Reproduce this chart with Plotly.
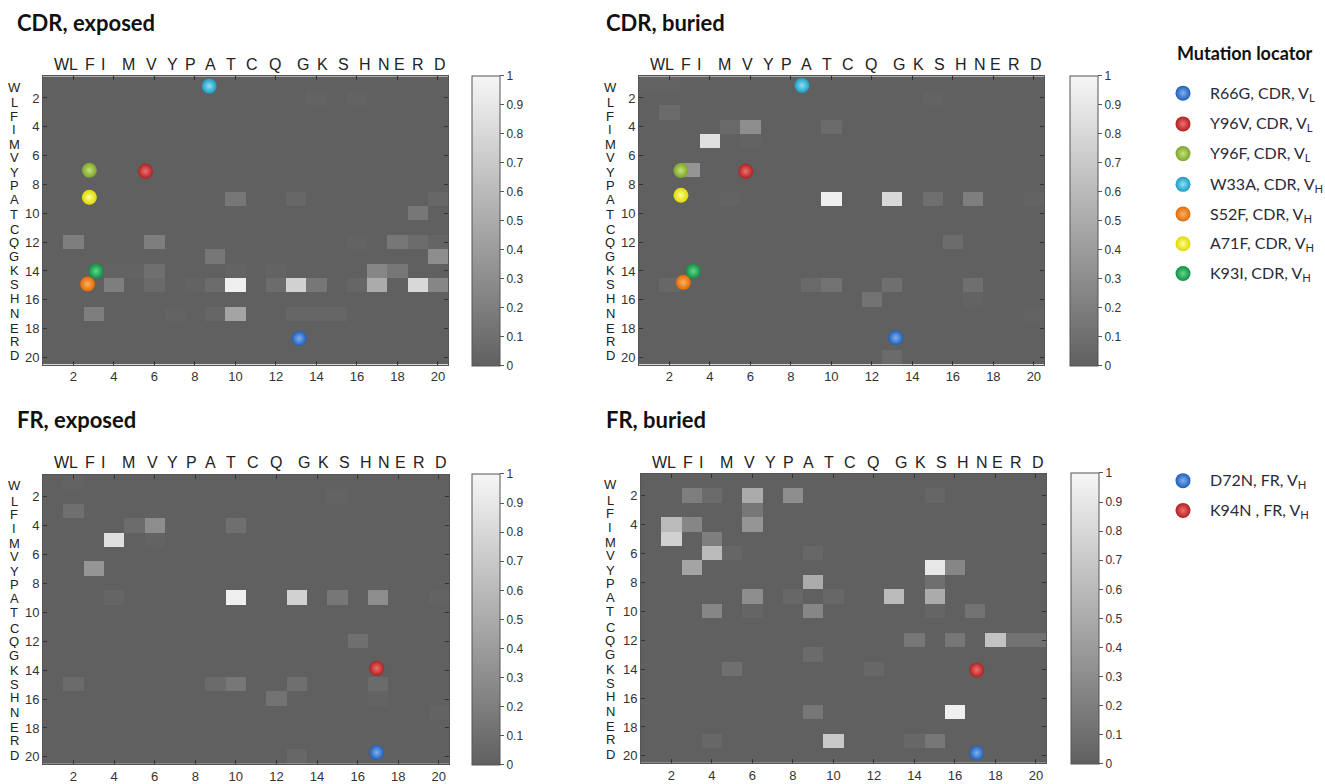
import plotly.graph_objects as go
import numpy as np

# ---------------- DATA ----------------
residues = ["W", "L", "F", "I", "M", "V", "Y", "P", "A", "T",
            "C", "Q", "G", "K", "S", "H", "N", "E", "R", "D"]
axis_ticks = [2, 4, 6, 8, 10, 12, 14, 16, 18, 20]
cbar_ticks = [0, 0.1, 0.2, 0.3, 0.4, 0.5, 0.6, 0.7, 0.8, 0.9, 1]
cbar_labels = ["0", "0.1", "0.2", "0.3", "0.4", "0.5", "0.6", "0.7", "0.8", "0.9", "1"]

panel_titles = ["CDR, exposed", "CDR, buried", "FR, exposed", "FR, buried"]

# non-zero cells: (row, column, value)
cdr_exposed_cells = [
    (2, 14, 0.02), (2, 16, 0.02),
    (9, 10, 0.15), (9, 13, 0.05), (9, 20, 0.05),
    (10, 19, 0.15),
    (12, 2, 0.2), (12, 6, 0.2), (12, 16, 0.02), (12, 18, 0.15), (12, 19, 0.08), (12, 20, 0.03),
    (13, 9, 0.15), (13, 20, 0.3),
    (14, 4, 0.02), (14, 5, 0.02), (14, 6, 0.1), (14, 10, 0.02), (14, 12, 0.02),
    (14, 17, 0.25), (14, 18, 0.15),
    (15, 4, 0.2), (15, 6, 0.06), (15, 8, 0.02), (15, 9, 0.08), (15, 10, 0.95),
    (15, 12, 0.08), (15, 13, 0.75), (15, 14, 0.15), (15, 16, 0.04), (15, 17, 0.5),
    (15, 19, 0.8), (15, 20, 0.25),
    (17, 3, 0.2), (17, 7, 0.02), (17, 9, 0.04), (17, 10, 0.45), (17, 13, 0.04),
    (17, 14, 0.04), (17, 15, 0.04),
]
cdr_buried_cells = [
    (1, 1, 0.02), (1, 2, 0.02), (2, 15, 0.02), (3, 2, 0.07),
    (4, 5, 0.06), (4, 6, 0.3), (4, 10, 0.07),
    (5, 4, 0.85), (5, 6, 0.02), (7, 3, 0.35),
    (9, 5, 0.02), (9, 10, 0.95), (9, 13, 0.8), (9, 15, 0.1), (9, 17, 0.2), (9, 20, 0.02),
    (12, 16, 0.08),
    (15, 2, 0.05), (15, 9, 0.06), (15, 10, 0.12), (15, 13, 0.1), (15, 17, 0.1),
    (16, 12, 0.12), (16, 17, 0.02), (17, 20, 0.02), (20, 13, 0.07),
]
fr_exposed_cells = [
    (1, 2, 0.02), (2, 15, 0.02), (3, 2, 0.1),
    (4, 5, 0.08), (4, 6, 0.3), (4, 10, 0.1),
    (5, 4, 0.85), (5, 6, 0.02), (7, 3, 0.35),
    (9, 4, 0.03), (9, 10, 0.95), (9, 13, 0.75), (9, 15, 0.15), (9, 17, 0.3), (9, 20, 0.02),
    (12, 16, 0.1),
    (15, 2, 0.07), (15, 9, 0.07), (15, 10, 0.15), (15, 13, 0.1), (15, 17, 0.07),
    (16, 12, 0.12), (16, 17, 0.02), (17, 20, 0.02), (20, 13, 0.05),
]
fr_buried_cells = [
    (2, 3, 0.2), (2, 4, 0.07), (2, 6, 0.5), (2, 8, 0.3), (2, 15, 0.04),
    (3, 6, 0.15),
    (4, 2, 0.6), (4, 3, 0.25), (4, 6, 0.35),
    (5, 2, 0.75), (5, 4, 0.2),
    (6, 4, 0.6), (6, 5, 0.04), (6, 9, 0.05),
    (7, 3, 0.45), (7, 15, 0.9), (7, 16, 0.25),
    (8, 9, 0.5), (8, 15, 0.1),
    (9, 6, 0.3), (9, 8, 0.05), (9, 10, 0.05), (9, 13, 0.6), (9, 15, 0.5),
    (10, 4, 0.25), (10, 6, 0.03), (10, 9, 0.25), (10, 15, 0.03), (10, 17, 0.12),
    (12, 14, 0.15), (12, 16, 0.15), (12, 18, 0.65), (12, 19, 0.12), (12, 20, 0.12),
    (13, 9, 0.07),
    (14, 5, 0.1), (14, 12, 0.05),
    (17, 9, 0.15), (17, 16, 0.95),
    (19, 4, 0.05), (19, 10, 0.7), (19, 14, 0.05), (19, 15, 0.15),
]

# mutation locators
cdr_mutations = ["R66G, CDR, V<sub>L</sub>", "Y96V, CDR, V<sub>L</sub>", "Y96F, CDR, V<sub>L</sub>",
                 "W33A, CDR, V<sub>H</sub>", "S52F, CDR, V<sub>H</sub>", "A71F, CDR, V<sub>H</sub>",
                 "K93I, CDR, V<sub>H</sub>"]
cdr_exposed_x = [13.15, 5.56, 2.79, 8.71, 2.70, 2.79, 3.12]
cdr_exposed_y = [18.68, 7.08, 7.01, 1.18, 14.90, 8.89, 14.01]
cdr_buried_x = [13.18, 5.77, 2.57, 8.55, 2.69, 2.57, 3.18]
cdr_buried_y = [18.63, 7.08, 7.03, 1.13, 14.79, 8.75, 14.01]

fr_mutations = ["D72N, FR, V<sub>H</sub>", "K94N , FR, V<sub>H</sub>"]
fr_exposed_x = [16.94, 16.94]
fr_exposed_y = [19.70, 13.88]
fr_buried_x = [17.08, 17.08]
fr_buried_y = [19.80, 14.06]

# ---------------- STYLE ----------------
cdr_colors = [("#1f5fb8", "#7fb0f0"), ("#b02020", "#f07070"), ("#7aa52a", "#c8e07a"),
              ("#1a9cc0", "#8ee0f5"), ("#e06a05", "#ffb060"), ("#e0d800", "#ffff90"),
              ("#0e9040", "#60d890")]
fr_colors = [("#1f5fb8", "#7fb0f0"), ("#b02020", "#f07070")]

FIG_W, FIG_H = 1325, 784
def px_x(v): return v / FIG_W
def px_y(v): return 1 - v / FIG_H

# plot areas in pixels (left, right, top, bottom)
areas = [(43, 448, 77, 368), (639, 1044, 77, 368), (43, 449, 479, 771), (641, 1046, 478, 770)]
cbar_left = [472, 1070, 472, 1071]
title_pos = [(15, 23), (604, 23), (15, 423), (604, 423)]
top_letter_y = [65, 65, 467, 467]
left_letter_x = [14, 610, 14, 610]
top_letter_pos = [1.44, 2.01, 2.83, 3.45, 4.72, 5.87, 6.89, 7.8, 8.76, 9.77,
                  10.83, 11.96, 13.36, 14.31, 15.33, 16.42, 17.32, 18.12, 19.0, 20.1]
left_letter_pos = [1.27, 2.35, 3.26, 4.2, 5.25, 6.15, 7.17, 8.1, 9.07, 10.05,
                   11.1, 12.0, 13.0, 14.0, 14.97, 15.9, 16.96, 17.99, 18.9, 19.87]

colorscale = [[0, "rgb(96,96,96)"], [1, "rgb(246,246,246)"]]
tick_font = dict(family="Liberation Sans, Arial", size=13, color="#333")
letter_font = dict(family="Liberation Sans, Arial", size=16, color="#222")
left_letter_font = dict(family="Liberation Sans, Arial", size=13, color="#222")

def build_z(cells):
    z = np.zeros((20, 20))
    for r, c, v in cells:
        z[r - 1, c - 1] = v
    return z

cells_all = [cdr_exposed_cells, cdr_buried_cells, fr_exposed_cells, fr_buried_cells]
markers_all = [
    (cdr_exposed_x, cdr_exposed_y, cdr_colors),
    (cdr_buried_x, cdr_buried_y, cdr_colors),
    (fr_exposed_x, fr_exposed_y, fr_colors),
    (fr_buried_x, fr_buried_y, fr_colors),
]

fig = go.Figure()
annotations = []
idx_vals = list(range(1, 21))

for i in range(4):
    ax = "" if i == 0 else str(i + 1)
    L, R, T, B = areas[i]
    fig.add_trace(go.Heatmap(
        z=build_z(cells_all[i]), x=idx_vals, y=idx_vals,
        colorscale=colorscale, zmin=0, zmax=1,
        xaxis="x" + ax, yaxis="y" + ax, showscale=True,
        colorbar=dict(
            x=px_x(cbar_left[i]), xanchor="left", xpad=0, ypad=0,
            y=px_y((T + B) / 2), yanchor="middle",
            len=(B - T + 2) / FIG_H, lenmode="fraction",
            thickness=28, thicknessmode="pixels",
            outlinecolor="#555", outlinewidth=1,
            tickvals=cbar_ticks, ticktext=cbar_labels,
            ticks="outside", ticklen=4, tickcolor="#555",
            tickfont=dict(family="Liberation Sans, Arial", size=12, color="#333"),
        ),
        hoverinfo="skip",
    ))
    mx, my, cols = markers_all[i]
    fig.add_trace(go.Scatter(
        x=mx, y=my, mode="markers", xaxis="x" + ax, yaxis="y" + ax,
        marker=dict(size=15, color=[c[0] for c in cols],
                    gradient=dict(type="radial", color=[c[1] for c in cols]),
                    line=dict(width=0)),
        showlegend=False, hoverinfo="skip",
    ))
    axis_common = dict(showgrid=False, zeroline=False, showline=True, linecolor="#555",
                       linewidth=1, mirror="allticks", ticks="inside", ticklen=4,
                       tickcolor="#333", tickfont=tick_font)
    fig.update_layout(**{
        "xaxis" + ax: dict(domain=[px_x(L), px_x(R)], range=[0.5, 20.5],
                           tickvals=axis_ticks, anchor="y" + ax, **axis_common),
        "yaxis" + ax: dict(domain=[px_y(B), px_y(T)], range=[20.5, 0.5],
                           tickvals=axis_ticks, anchor="x" + ax, **axis_common),
    })
    # title
    annotations.append(dict(text="<b>" + panel_titles[i] + "</b>", xref="paper", yref="paper",
                            x=px_x(title_pos[i][0]), y=px_y(title_pos[i][1]),
                            xanchor="left", yanchor="middle", showarrow=False,
                            font=dict(family="Lato", size=22, color="#111")))
    # residue letters
    for res, p in zip(residues, top_letter_pos):
        annotations.append(dict(text=res, xref="x" + ax, yref="paper", x=p,
                                y=px_y(top_letter_y[i]), showarrow=False,
                                xanchor="center", yanchor="middle", font=letter_font))
    for res, p in zip(residues, left_letter_pos):
        annotations.append(dict(text=res, xref="paper", yref="y" + ax,
                                x=px_x(left_letter_x[i]), y=p, showarrow=False,
                                xanchor="center", yanchor="middle", font=left_letter_font,
                                height=13))

# legend area (hidden pixel axis to the right of the panels)
LEG_L = 1160
legend_x_marker = 1183
legend_x_text = 1208
cdr_legend_y = [94, 125, 155, 186, 216, 246, 276]
fr_legend_y = [485, 515]
fig.add_trace(go.Scatter(
    x=[legend_x_marker] * (len(cdr_mutations) + len(fr_mutations)),
    y=cdr_legend_y + fr_legend_y, mode="markers", xaxis="x5", yaxis="y5",
    marker=dict(size=15, color=[c[0] for c in cdr_colors + fr_colors],
                gradient=dict(type="radial", color=[c[1] for c in cdr_colors + fr_colors]),
                line=dict(width=0)),
    showlegend=False, hoverinfo="skip",
))
fig.update_layout(
    xaxis5=dict(domain=[px_x(LEG_L), 1], range=[LEG_L, FIG_W], visible=False, anchor="y5"),
    yaxis5=dict(domain=[0, 1], range=[FIG_H, 0], visible=False, anchor="x5"),
)
annotations.append(dict(text="<b>Mutation locator</b>", xref="paper", yref="paper",
                        x=px_x(1175), y=px_y(53), xanchor="left", yanchor="middle",
                        showarrow=False, font=dict(family="Lato", size=18, color="#111")))
for name, yy in zip(cdr_mutations + fr_mutations, cdr_legend_y + fr_legend_y):
    annotations.append(dict(text=name, xref="paper", yref="paper", x=px_x(legend_x_text),
                            y=px_y(yy), xanchor="left", yanchor="middle", showarrow=False,
                            font=dict(family="Lato", size=16, color="#2a2a3a")))

fig.update_layout(
    width=FIG_W, height=FIG_H, margin=dict(l=0, r=0, t=0, b=0),
    paper_bgcolor="white", plot_bgcolor="rgba(0,0,0,0)",
    annotations=annotations, showlegend=False,
)
fig.write_html("out.html")
